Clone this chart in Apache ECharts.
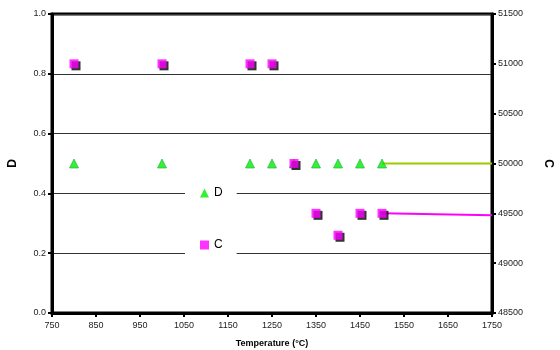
<!DOCTYPE html>
<html>
<head>
<meta charset="utf-8">
<script src="https://cdn.jsdelivr.net/npm/echarts@6/dist/echarts.min.js"></script>
<style>html,body{margin:0;padding:0;background:#fff;}#c{width:560px;height:350px;}</style>
</head>
<body>
<div id="c"></div>
<script>
// ---- data ----
const temps = [800, 1000, 1200, 1250, 1300, 1350, 1400, 1450, 1500];
const dValues = [0.5, 0.5, 0.5, 0.5, 0.5, 0.5, 0.5, 0.5, 0.5];
const cValues = [51000, 51000, 51000, 51000, 50000, 49500, 49280, 49500, 49500];
const dTrendX = [1500, 1750];
const dTrendY = [0.5, 0.5];
const cTrendX = [1500, 1750];
const cTrendY = [49500, 49480];
const xTicks = [750, 850, 950, 1050, 1150, 1250, 1350, 1450, 1550, 1650, 1750];

const font = 'Liberation Sans, Arial, sans-serif';
const zip = (a, b) => a.map((v, i) => [v, b[i]]);

const chart = echarts.init(document.getElementById('c'), null, {renderer: 'canvas'});
chart.setOption({
  animation: false,
  backgroundColor: '#fff',
  textStyle: {fontFamily: font},
  grid: {left: 52, right: 68, top: 14, bottom: 37, containLabel: false, outerBoundsMode: 'none',
         show: true, borderColor: '#000', borderWidth: 3, backgroundColor: 'transparent'},
  legend: {
    data: [{name: 'D', icon: 'triangle'}, {name: 'C', icon: 'rect'}],
    orient: 'vertical', left: 185, top: 179,
    backgroundColor: '#fff',
    padding: [8, 14, 10, 15],
    itemGap: 40, itemWidth: 9, itemHeight: 9,
    itemStyle: {shadowColor: 'rgba(0,0,0,0)', shadowOffsetX: 0, shadowOffsetY: 0, shadowBlur: 0, borderWidth: 0},
    textStyle: {fontFamily: font, fontSize: 12, color: '#000'}
  },
  xAxis: {
    type: 'value', min: 750, max: 1750,
    name: 'Temperature (°C)', nameLocation: 'middle', nameGap: 26,
    nameTextStyle: {fontFamily: font, fontSize: 9, fontWeight: 'bold', color: '#000'},
    axisLine: {show: true, lineStyle: {color: '#000', width: 3}},
    axisTick: {show: true, customValues: xTicks, length: 4, lineStyle: {color: '#000', width: 2}},
    axisLabel: {customValues: xTicks, fontFamily: font, fontSize: 9, color: '#222', margin: 8, formatter: v => String(v)},
    splitLine: {show: false}
  },
  yAxis: [{
    type: 'value', min: 0, max: 1, interval: 0.2, position: 'left',
    name: 'D', nameLocation: 'middle', nameGap: 33, nameRotate: 90,
    nameTextStyle: {fontFamily: font, fontSize: 12, fontWeight: 'bold', color: '#000'},
    axisLine: {show: true, lineStyle: {color: '#000', width: 3}},
    axisTick: {show: true, length: 4, lineStyle: {color: '#000', width: 2}},
    axisLabel: {fontFamily: font, fontSize: 9, color: '#222', margin: 6, formatter: v => v.toFixed(1)},
    splitLine: {show: true, lineStyle: {color: '#333', width: 1}}
  }, {
    type: 'value', min: 48500, max: 51500, interval: 500, position: 'right',
    name: 'C', nameLocation: 'middle', nameGap: 50, nameRotate: -90,
    nameTextStyle: {fontFamily: font, fontSize: 12, fontWeight: 'bold', color: '#000'},
    axisLine: {show: true, lineStyle: {color: '#000', width: 3}},
    axisTick: {show: true, length: 4, lineStyle: {color: '#000', width: 2}},
    axisLabel: {fontFamily: font, fontSize: 9, color: '#222', margin: 6, formatter: v => String(v)},
    splitLine: {show: false}
  }],
  series: [
    {
      name: 'D trend', type: 'line', yAxisIndex: 0, data: zip(dTrendX, dTrendY),
      showSymbol: false, symbol: 'none', lineStyle: {color: '#99cc00', width: 2}, z: 2
    },
    {
      name: 'C trend', type: 'line', yAxisIndex: 1, data: zip(cTrendX, cTrendY),
      showSymbol: false, symbol: 'none', lineStyle: {color: '#ff00ff', width: 2}, z: 2
    },
    {
      name: 'D', type: 'scatter', yAxisIndex: 0, data: zip(temps, dValues),
      symbol: 'triangle', symbolSize: [9, 9],
      itemStyle: {color: '#00ee00', borderColor: '#22aa44', borderWidth: 0.8}, z: 3
    },
    {
      name: 'C', type: 'scatter', yAxisIndex: 1, data: zip(temps, cValues),
      symbol: 'rect', symbolSize: 9,
      itemStyle: {color: '#ff00ff', shadowColor: '#000', shadowOffsetX: 2, shadowOffsetY: 2, shadowBlur: 0}, z: 4
    }
  ]
});
</script>
</body>
</html>
